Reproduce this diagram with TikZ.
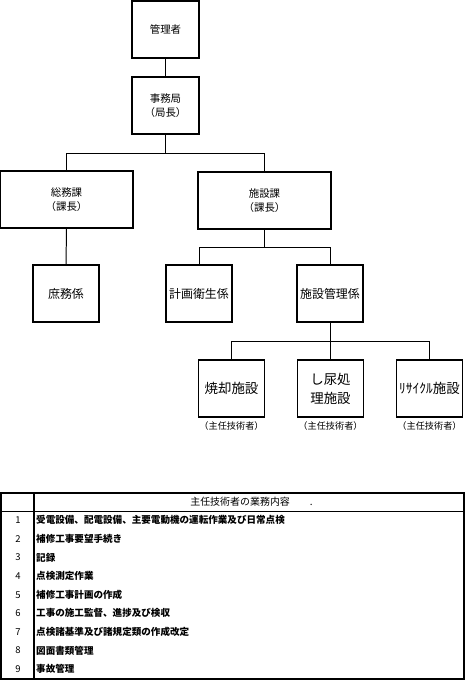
\documentclass[tikz,border=0pt]{standalone}
\usepackage{fontspec}
\setmainfont{Noto Sans CJK JP}
\usetikzlibrary{positioning}

\tikzset{
    orgbox/.style={draw, line width=1.4pt, minimum width=67bp, minimum height=57bp,
        align=center, inner sep=1pt, font=\fontsize{10.5}{14}\selectfont},
    widebox/.style={orgbox, minimum width=133bp},
    unitbox/.style={orgbox, minimum width=66bp, font=\fontsize{12}{14}\selectfont},
    plantbox/.style={orgbox, minimum width=66bp, font=\fontsize{13.5}{19}\selectfont},
    link/.style={line width=1pt},
    chief/.style={font=\fontsize{9.2}{10}\selectfont, inner sep=1pt},
    rownum/.style={font=\fontsize{9.5}{11}\selectfont},
    rowtext/.style={anchor=west, inner sep=0pt, font=\fontsize{9.6}{11}\selectfont\bfseries}
}

\begin{document}
\begin{tikzpicture}[x=1bp, y=-1bp]
    % ===== PARAMETERS =====
    \pgfmathsetmacro{\W}{466}    % total width
    \pgfmathsetmacro{\H}{683}    % total height
    \pgfmathsetmacro{\Tt}{493}   % table top
    \pgfmathsetmacro{\Th}{511}   % header bottom
    \pgfmathsetmacro{\Tb}{679}   % table bottom
    \pgfmathsetmacro{\Tc}{34}    % number column
    \pgfmathsetmacro{\Rh}{18.6}  % row height

    \useasboundingbox (0,0) rectangle (\W,\H);

    % ===== ORGANISATION CHART =====
    \node[orgbox] (kanri) at (165.5,29.5) {管理者};
    \node[orgbox] (jimu) at (165.5,105.5) {事務局\\（局長）};

    \node[widebox] (somu) at (66.5,199.5) {総務課\\（課長）};
    \node[widebox] (shisetsu) at (264.5,200.5) {施設課\\（課長）};

    \node[unitbox] (shomu) at (66,293.5) {庶務係};
    \node[unitbox] (keikaku) at (199,293.5) {計画衛生係};
    \node[unitbox] (kanrikakari) at (330,293.5) {施設管理係};

    \node[plantbox] (shokyaku) at (231.5,388.5) {焼却施設};
    \node[plantbox] (shinyo) at (330.5,388.5) {し尿処\\理施設};
    \node[plantbox] (recycle) at (429.5,388.5) {ﾘｻｲｸﾙ施設};

    % Chief engineers
    \node[chief, below=3bp of shokyaku] (c1) {（主任技術者）};
    \node[chief, below=3bp of shinyo] (c2) {（主任技術者）};
    \node[chief, below=3bp of recycle] (c3) {（主任技術者）};

    % ===== CONNECTORS =====
    \draw[link] (kanri) -- (jimu);
    \draw[link] (jimu.south) -- ++(0,19) -| (somu.north);
    \draw[link] (jimu.south) -- ++(0,19) -| (shisetsu.north);
    \draw[link] (somu) -- (shomu);
    \draw[link] (shisetsu.south) -- ++(0,18) -| (keikaku.north);
    \draw[link] (shisetsu.south) -- ++(0,18) -| (kanrikakari.north);
    \draw[link] (kanrikakari.south) -- ++(0,19) -| (shokyaku.north);
    \draw[link] (kanrikakari.south) -- ++(0,19) -| (shinyo.north);
    \draw[link] (kanrikakari.south) -- ++(0,19) -| (recycle.north);

    % ===== DUTY TABLE =====
    \draw[line width=1.2pt] (1,\Tt) rectangle (464,\Tb);
    \draw[line width=1pt] (1,\Th) -- (464,\Th);
    \draw[line width=1.2pt] (\Tc,\Tt) -- (\Tc,\Tb);

    \node[font=\fontsize{10}{12}\selectfont] (head) at (251.5,502)
        {主任技術者の業務内容\hspace{20bp}.};

    \foreach \n/\txt in {1/受電設備、配電設備、主要電動機の運転作業及び日常点検,
                         2/補修工事要望手続き,
                         3/記録,
                         4/点検測定作業,
                         5/補修工事計画の作成,
                         6/工事の施工監督、進捗及び検収,
                         7/点検諸基準及び諸規定類の作成改定,
                         8/図面書類管理,
                         9/事故管理} {
        \node[rownum] (num\n) at (18,{\Th + (\n - 0.5)*\Rh}) {\n};
        \node[rowtext] (duty\n) at (36,{\Th + (\n - 0.5)*\Rh}) {\txt};
    }
\end{tikzpicture}
\end{document}
